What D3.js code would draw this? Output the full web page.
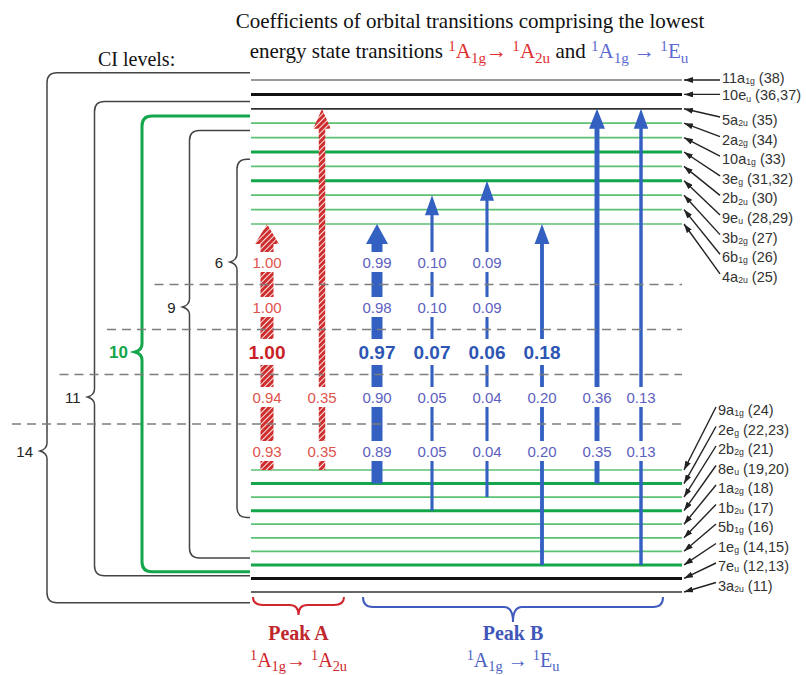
<!DOCTYPE html>
<html>
<head>
<meta charset="utf-8">
<script src="https://cdn.jsdelivr.net/npm/d3@7"></script>
<style>
body { margin: 0; background: #fff; }
</style>
</head>
<body>
<script>
// orbital levels, listed bottom to top
const levelName = ["3a","7e","1e","5b","1b","1a","8e","2b","2e","9a",
                   "4a","6b","3b","9e","2b","3e","10a","2a","5a","10e","11a"];
const levelSub  = ["2u","u","g","1g","2u","2g","u","2g","g","1g",
                   "2u","1g","2g","u","2u","g","1g","2g","2u","u","1g"];
const levelNum  = ["11","12,13","14,15","16","17","18","19,20","21","22,23","24",
                   "25","26","27","28,29","30","31,32","33","34","35","36,37","38"];

// transitions (orbital numbers) and the peak they belong to
const transFrom = [24, 24, 22, 19, 21, 14, 22, 14];
const transTo   = [25, 35, 25, 27, 28, 25, 35, 35];
const transPeak = ["A", "A", "B", "B", "B", "B", "B", "B"];

// CI levels and the orbitals each one includes
const ciLevels    = [6, 9, 10, 11, 14];
const ciTopOrb    = [30, 33, 34, 35, 38];
const ciBottomOrb = [19, 16, 14, 14, 11];

// coefficients of each transition for each CI level
const coefCI6  = [1.00, null, 0.99, 0.10, 0.09, null, null, null];
const coefCI9  = [1.00, null, 0.98, 0.10, 0.09, null, null, null];
const coefCI10 = [1.00, null, 0.97, 0.07, 0.06, 0.18, null, null];
const coefCI11 = [0.94, 0.35, 0.90, 0.05, 0.04, 0.20, 0.36, 0.13];
const coefCI14 = [0.93, 0.35, 0.89, 0.05, 0.04, 0.20, 0.35, 0.13];
const coefRows = [coefCI6, coefCI9, coefCI10, coefCI11, coefCI14];
const boldCI = 10;

const width = 806, height = 675;
const BLUE = "#3461c1", GREEN = "#14a64a";
const sans = "'Liberation Sans', Arial, sans-serif";
const serif = "'Liberation Serif', 'Times New Roman', serif";

const svg = d3.select("body").append("svg")
    .attr("width", width)
    .attr("height", height);

const defs = svg.append("defs");
const hatch = defs.append("pattern")
    .attr("id", "hatch")
    .attr("patternUnits", "userSpaceOnUse")
    .attr("width", 4).attr("height", 4)
    .attr("patternTransform", "rotate(45)");
hatch.append("rect").attr("width", 4).attr("height", 4).attr("fill", "#cf2e2e");
hatch.append("line").attr("x1", 0).attr("y1", 0).attr("x2", 0).attr("y2", 4)
    .attr("stroke", "#fff").attr("stroke-width", 1.8);

defs.append("marker")
    .attr("id", "ptr")
    .attr("markerUnits", "userSpaceOnUse")
    .attr("markerWidth", 9).attr("markerHeight", 6)
    .attr("refX", 9).attr("refY", 3)
    .attr("orient", "auto")
  .append("path").attr("d", "M0,0L9,3L0,6Z").attr("fill", "#222");

// scales
const levelOrbs = levelNum.map(s => s.split(",").map(Number));
const rankOf = orb => levelOrbs.findIndex(o => o.includes(orb));
const y = d3.scaleLinear().domain([0, 9, 10, 20]).range([592, 470, 224, 80]);
const colX = d3.scaleLinear().domain([0, 6, 7]).range([267, 597, 641]);
const rowY = d3.scaleLinear().domain([0, 3, 4]).range([262, 397, 451]);
const ciX = d3.scalePoint().domain([14, 11, 10, 9, 6]).range([47, 237]);
const shaftW = d3.scalePow().exponent(1.5).domain([0, 1]).range([3, 12.5]);
const xL = 251, xR = 682;

// ---- level lines
const inCI10 = i => levelOrbs[i][0] >= 14 && levelOrbs[i][0] <= 34;
svg.append("g").selectAll("line")
  .data(levelName)
  .join("line")
    .attr("x1", xL).attr("x2", xR)
    .attr("y1", (d, i) => y(i)).attr("y2", (d, i) => y(i))
    .attr("stroke", (d, i) => inCI10(i) ? (levelOrbs[i].length > 1 ? GREEN : "#5cc173")
                                        : (levelOrbs[i].length > 1 ? "#111" : (i === 20 ? "#777" : "#333")))
    .attr("stroke-width", (d, i) => levelOrbs[i].length > 1 ? 3 : 1.7);

// ---- CI level brackets
function bracePath(x, top, bottom, tip) {
  const r = 10;
  return `M${xL - 1},${top}H${x + r}Q${x},${top} ${x},${top + r}` +
    `V${tip - 8}Q${x},${tip - 2} ${x - 7},${tip}Q${x},${tip + 2} ${x},${tip + 8}` +
    `V${bottom - r}Q${x},${bottom} ${x + r},${bottom}H${xL - 1}`;
}
ciLevels.forEach((c, i) => {
  const top = y(rankOf(ciTopOrb[i]) + 0.5);
  let bottom = y(rankOf(ciBottomOrb[i]) - (rankOf(ciBottomOrb[i]) === 0 ? 0.8 : 0.5));
  if (i > 0 && ciBottomOrb[i] === ciBottomOrb[i - 1]) bottom += 4;
  const isBold = c === boldCI;
  svg.append("path")
    .attr("d", bracePath(ciX(c), top, bottom, rowY(i)))
    .attr("fill", "none")
    .attr("stroke", isBold ? GREEN : "#444")
    .attr("stroke-width", isBold ? 3 : 1.5);
  svg.append("text")
    .attr("x", ciX(c) - 14).attr("y", rowY(i) + 5.5)
    .attr("text-anchor", "end")
    .attr("font-family", sans)
    .attr("font-size", isBold ? 17 : 15)
    .attr("font-weight", isBold ? "bold" : "normal")
    .attr("fill", isBold ? GREEN : "#222")
    .text(c);
});

// ---- transition arrows
transFrom.forEach((f, i) => {
  const hatched = transPeak[i] === "A";
  const x = colX(i), y0 = y(rankOf(f)), yt = y(rankOf(transTo[i]));
  const w = shaftW(coefCI14[i]) + (hatched ? 1.5 : 0);
  const hw = w + 11, hh = 20;
  const yb = yt + hh;
  svg.append("path")
    .attr("d", `M${x - w / 2},${y0}V${yb}H${x - hw / 2}L${x},${yt}L${x + hw / 2},${yb}H${x + w / 2}V${y0}Z`)
    .attr("fill", hatched ? "url(#hatch)" : BLUE);
});

// ---- dashed separators between CI rows
d3.range(ciLevels.length - 1).forEach(i => {
  const yy = (rowY(i) + rowY(i + 1)) / 2;
  svg.append("line")
    .attr("x1", ciX(ciLevels[i + 1]) - 35).attr("x2", xR)
    .attr("y1", yy).attr("y2", yy)
    .attr("stroke", "#7d7d7d").attr("stroke-width", 1.4)
    .attr("stroke-dasharray", "9,6");
});

// ---- coefficient labels
coefRows.forEach((row, r) => {
  const isBold = ciLevels[r] === boldCI;
  row.forEach((v, i) => {
    if (v === null) return;
    const red = transPeak[i] === "A";
    const g = svg.append("g");
    const t = g.append("text")
      .attr("x", colX(i)).attr("y", rowY(r) + (isBold ? 7 : 5.5))
      .attr("text-anchor", "middle")
      .attr("font-family", sans)
      .attr("font-size", isBold ? 19 : 15)
      .attr("font-weight", isBold ? "bold" : "normal")
      .attr("fill", red ? (isBold ? "#c91f27" : "#e0534d") : (isBold ? "#2d55b3" : "#5c60c0"))
      .text(v.toFixed(2));
    const bw = t.node().getComputedTextLength() + 2, bh = isBold ? 26 : 20;
    g.insert("rect", "text")
      .attr("x", colX(i) - bw / 2).attr("y", rowY(r) - bh / 2)
      .attr("width", bw).attr("height", bh)
      .attr("fill", "#fff");
  });
});

// ---- rich text helper (sub/superscripts)
function rich(sel, parts, size, subK = 0.3, subSize = 0.66) {
  let shift = 0;
  parts.forEach(p => {
    const target = p.sub ? size * subK : p.sup ? -size * 0.35 : 0;
    const ts = sel.append("tspan").attr("dy", target - shift).text(p.t);
    shift = target;
    if (p.sub || p.sup) ts.attr("font-size", size * subSize);
    if (p.fill) ts.attr("fill", p.fill);
  });
}

// ---- orbital labels on the right
levelName.forEach((n, i) => {
  const top = i >= 10;
  let cy;
  if (i === 20) cy = y(i) - 2.5;
  else if (i === 19) cy = y(i) + 1;
  else if (top) cy = 120 + (18 - i) * 19.6;
  else cy = 410 + (9 - i) * 19.5;
  const lx = top ? 722 : 718;
  svg.append("line")
    .attr("x1", lx - 2).attr("y1", i >= 19 ? y(i) : cy - 3)
    .attr("x2", xR + 2).attr("y2", y(i))
    .attr("stroke", "#222").attr("stroke-width", 1.4)
    .attr("marker-end", "url(#ptr)");
  const t = svg.append("text")
    .attr("x", lx).attr("y", cy + 5)
    .attr("font-family", sans).attr("font-size", 14.5)
    .attr("fill", "#333");
  rich(t, [{t: n}, {t: levelSub[i], sub: true}, {t: " (" + levelNum[i] + ")"}], 14.5, 0.08, 0.6);
});

// ---- peak braces
function hBrace(x0, x1, y0, off, depth) {
  const xm = (x0 + x1) / 2, yh = y0 + off;
  return `M${x0},${y0}Q${x0},${yh} ${x0 + 10},${yh}H${xm - 9}Q${xm},${yh} ${xm},${y0 + depth}` +
    `Q${xm},${yh} ${xm + 9},${yh}H${x1 - 10}Q${x1},${yh} ${x1},${y0}`;
}
const peaks = ["A", "B"];
peaks.forEach(p => {
  const cols = transPeak.map((d, i) => i).filter(i => transPeak[i] === p);
  const x0 = colX(cols[0]) - 14, x1 = colX(cols[cols.length - 1]) + 22;
  const col = p === "A" ? "#d0262c" : "#3f5bbd";
  svg.append("path")
    .attr("d", hBrace(x0, x1, 597, p === "A" ? 8 : 10, p === "A" ? 18 : 25))
    .attr("fill", "none").attr("stroke", col).attr("stroke-width", 2);
  const xm = (x0 + x1) / 2;
  svg.append("text")
    .attr("x", xm).attr("y", 640)
    .attr("text-anchor", "middle")
    .attr("font-family", serif).attr("font-size", 20).attr("font-weight", "bold")
    .attr("fill", p === "A" ? "#c0272d" : "#3f57b8")
    .text("Peak " + p);
  const t = svg.append("text")
    .attr("x", xm).attr("y", 667)
    .attr("text-anchor", "middle")
    .attr("font-family", serif).attr("font-size", 20)
    .attr("fill", p === "A" ? "#d0262c" : "#4a62c4");
  if (p === "A")
    rich(t, [{t: "1", sup: true}, {t: "A"}, {t: "1g", sub: true}, {t: "\u2192 "},
             {t: "1", sup: true}, {t: "A"}, {t: "2u", sub: true}], 20, 0.22, 0.72);
  else
    rich(t, [{t: "1", sup: true}, {t: "A"}, {t: "1g", sub: true}, {t: " \u2192 "},
             {t: "1", sup: true}, {t: "E"}, {t: "u", sub: true}], 20, 0.22, 0.72);
});

// ---- titles
svg.append("text")
  .attr("x", 470).attr("y", 28)
  .attr("text-anchor", "middle")
  .attr("font-family", serif).attr("font-size", 21)
  .attr("fill", "#111")
  .text("Coefficients of orbital transitions comprising the lowest");
const t2 = svg.append("text")
  .attr("x", 469).attr("y", 58)
  .attr("text-anchor", "middle")
  .attr("font-family", serif).attr("font-size", 21)
  .attr("fill", "#111");
const RT = "#e0302f", BT = "#5b6ad2";
rich(t2, [{t: "energy state transitions "},
          {t: "1", sup: true, fill: RT}, {t: "A", fill: RT}, {t: "1g", sub: true, fill: RT},
          {t: "\u2192 ", fill: RT}, {t: "1", sup: true, fill: RT}, {t: "A", fill: RT},
          {t: "2u", sub: true, fill: RT}, {t: " and "},
          {t: "1", sup: true, fill: BT}, {t: "A", fill: BT}, {t: "1g", sub: true, fill: BT},
          {t: " \u2192 ", fill: BT}, {t: "1", sup: true, fill: BT}, {t: "E", fill: BT},
          {t: "u", sub: true, fill: BT}], 21, 0.22, 0.72);

svg.append("text")
  .attr("x", 98).attr("y", 66)
  .attr("font-family", serif).attr("font-size", 20)
  .attr("fill", "#111")
  .text("CI levels:");
</script>
</body>
</html>
